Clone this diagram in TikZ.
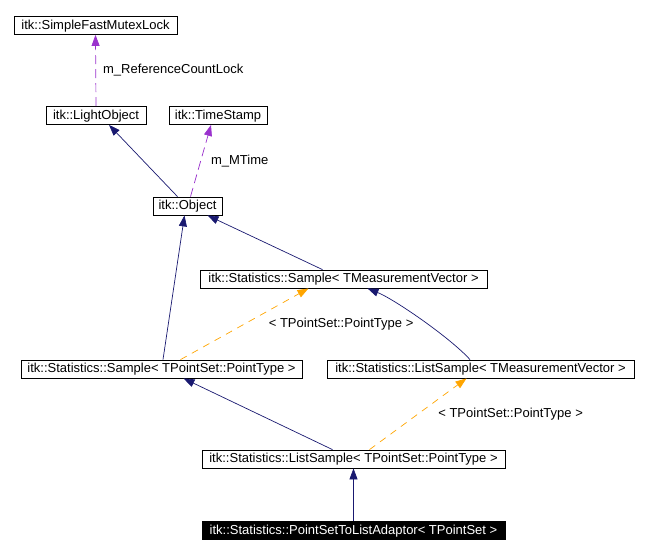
\documentclass[tikz,border=0pt]{standalone}
\usepackage{fontspec}
\setmainfont{Liberation Sans}
\usetikzlibrary{arrows.meta}
\definecolor{inhcol}{RGB}{25,25,112}
\definecolor{tplcol}{RGB}{255,165,0}
\definecolor{memcol}{RGB}{154,50,205}
\begin{document}
\begin{tikzpicture}[x=1pt, y=-1pt,
      every node/.style={font=\fontsize{13}{15}\selectfont},
      cls/.style={draw, line width=0.8pt, minimum height=18pt, inner sep=0pt,
        text height=9.5pt, text depth=2.5pt},
      curcls/.style={cls, fill=black, text=white},
      inherit/.style={inhcol, line width=0.7pt, -{Triangle[length=11pt,width=8pt]}},
      tmpl/.style={tplcol, line width=0.7pt, dash pattern=on 7pt off 6pt,
        -{Triangle[length=11pt,width=8pt]}},
      member/.style={memcol, line width=0.7pt, dash pattern=on 9pt off 5pt,
        -{Triangle[length=11pt,width=8pt]}},
      lbl/.style={text=black, inner sep=0pt, anchor=west}]
    \useasboundingbox (0,0) rectangle (648,555);
    \node[cls, minimum width=163pt] (mutex) at (95.5,25.5) {itk::SimpleFastMutexLock};
    \node[cls, minimum width=100pt] (light) at (96,115.5) {itk::LightObject};
    \node[cls, minimum width=98pt] (stamp) at (218,115.5) {itk::TimeStamp};
    \node[cls, minimum width=69pt] (obj) at (187.5,206) {itk::Object};
    \node[cls, minimum width=287pt] (smv) at (343.5,279) {itk::Statistics::Sample< TMeasurementVector >};
    \node[cls, minimum width=281pt] (spt) at (161.5,369) {itk::Statistics::Sample< TPointSet::PointType >};
    \node[cls, minimum width=307pt] (lmv) at (480.5,369) {itk::Statistics::ListSample< TMeasurementVector >};
    \node[cls, minimum width=303pt] (lpt) at (353.5,459) {itk::Statistics::ListSample< TPointSet::PointType >};
    \node[curcls, minimum width=303pt] (adapt) at (353.5,530.5) {itk::Statistics::PointSetToListAdaptor< TPointSet >};
    \draw[member] (light.north) -- (mutex.south)
      node[lbl, midway, xshift=7pt] (reflbl) {m\_ReferenceCountLock};
    \draw[inherit] ([xshift=-10pt]obj.north) -- ([xshift=13pt]light.south);
    \draw[member] ([xshift=3pt]obj.north) -- ([xshift=-7pt]stamp.south)
      node[lbl, midway, xshift=10pt] (timelbl) {m\_MTime};
    \draw[inherit] ([xshift=-21pt]smv.north) -- ([xshift=20pt]obj.south);
    \draw[inherit] ([xshift=1.5pt]spt.north) -- ([xshift=-3pt]obj.south);
    \draw[tmpl] ([xshift=19pt]spt.north) -- ([xshift=-35pt]smv.south)
      node[lbl, midway, xshift=24pt] (smvlbl) {< TPointSet::PointType >};
    \draw[inherit] ([xshift=-10.5pt]lmv.north) to[out=132, in=-22, looseness=0.6] ([xshift=24pt]smv.south);
    \draw[inherit] ([xshift=-21pt]lpt.north) -- ([xshift=22pt]spt.south);
    \draw[tmpl] ([xshift=16pt]lpt.north) -- ([xshift=-14pt]lmv.south)
      node[lbl, midway, xshift=20pt] (lmvlbl) {< TPointSet::PointType >};
    \draw[inherit] (adapt.north) -- (lpt.south);
  \end{tikzpicture}
\end{document}
